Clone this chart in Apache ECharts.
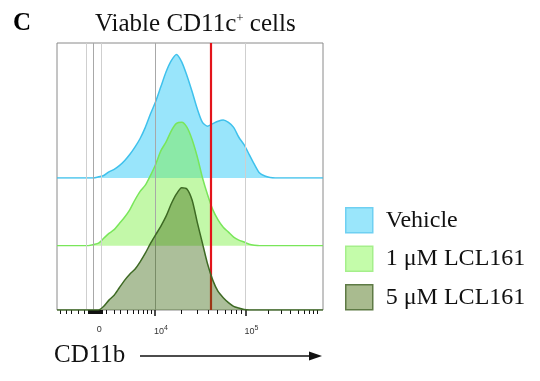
<!DOCTYPE html>
<html>
<head>
<meta charset="utf-8">
<script src="https://cdn.jsdelivr.net/npm/echarts@6/dist/echarts.min.js"></script>
<style>
  html, body { margin: 0; padding: 0; background: #fff; }
  #main { width: 540px; height: 381px; }
</style>
</head>
<body>
<div id="main"></div>
<script>
// histogram bins, display channels (0-1024)
var channels = [0, 120, 140, 160, 180, 200, 220, 240, 260, 280, 300, 320, 340, 360, 380, 400, 420, 440, 460,
	480, 500, 520, 540, 560, 580, 600, 620, 640, 660, 680, 700, 720, 740, 760, 780, 800, 820, 840, 860, 1024];
// % of mode
var vehicle = [0, 0, 0, 1, 2, 5, 7, 10, 14, 19, 25, 32, 41, 52, 62, 74, 86, 95, 100,
	94, 83, 70, 56, 45, 42, 44, 46, 47, 45, 41, 33, 27, 19, 11, 4, 1.6, 0.4, 0, 0, 0];
var lcl1 = [0, 0, 1, 2, 6, 10, 13, 18, 23, 29, 37, 44, 49, 57, 66, 77, 84, 93, 99,
	100, 96, 86, 72, 55, 41, 29, 21, 15, 11, 7, 4.5, 3, 1.2, 0.4, 0, 0, 0, 0, 0, 0];
var lcl5 = [0, 0, 0, 0, 3, 8, 12, 18, 24, 29, 33, 39, 46, 54, 61, 68, 76, 86, 94,
	99, 98, 89, 71, 54, 37, 24, 15, 10, 6, 3, 1.6, 0.4, 0, 0, 0, 0, 0, 0, 0, 0];
var seriesNames = ['Vehicle', '1 μM LCL161', '5 μM LCL161'];

// axis (raw CD11b fluorescence)
var minorTicks = [-6000, -5000, -4000, -3000, -2000,
	-1500, -1400, -1300, -1200, -1100, -1000, -900, -800, -700, -600, -500, -400, -300, -200, -100, 0, 100, 200, 300, 400,
	1000, 2000, 3000, 4000, 5000, 6000, 7000, 8000, 9000,
	20000, 30000, 40000, 50000, 60000, 70000, 80000, 90000,
	200000, 300000, 400000, 500000, 600000, 700000, 800000, 900000];
var majorTicks = [10000, 100000];
var labelValues = [0, 10000, 100000];
var labelTexts = ['0', '{pad|}10{sup|4}', '{pad|}10{sup|5}'];
var gridValues = [-1800, -800, 200, 10000, 100000];
var gateValue = 42000;

// biexponential-ish display transform -> channel
function toChannel(v) {
	if (v > 100000) {
		return toChannel(100000) + 288.7 * Math.log10(v / 100000);
	}
	return 162.8 + 155.7 * Math.asinh(v / 5400);
}

function pairs(ys) {
	var out = [];
	for (var i = 0; i < channels.length; i++) out.push([channels[i], ys[i]]);
	return out;
}

var labelCh = labelValues.map(toChannel);

var chart = echarts.init(document.getElementById('main'));

var serif = 'Liberation Serif';
var H = 123.5 * 1.1;   // each histogram band, y max 110
var hx = { type: 'value', min: 0, max: 1024, show: false };
var hy = { type: 'value', min: 0, max: 110, show: false };

option = {
	animation: false,
	title: [
		{ text: 'C', left: 13, top: 11, padding: 0, textStyle: { fontFamily: serif, fontWeight: 'bold', fontSize: 25, color: '#000' } },
		{
			text: 'Viable CD11c{sup|+} cells', left: 95, top: 12, padding: 0,
			textStyle: {
				fontFamily: serif, fontWeight: 'normal', fontSize: 25, color: '#111',
				rich: { sup: { fontFamily: serif, fontSize: 13, verticalAlign: 'top', padding: [0, 0, 10, 0], color: '#111' } }
			}
		}
	],
	legend: {
		orient: 'vertical', left: 345, top: 207, padding: 0,
		itemWidth: 27, itemHeight: 25, itemGap: 12,
		selectedMode: false,
		textStyle: { fontFamily: serif, fontSize: 24, color: '#111', padding: [0, 0, 0, 8] },
		data: [
			{ name: seriesNames[0], icon: 'rect', itemStyle: { color: '#9ae6fb', borderColor: '#6fd0f2', borderWidth: 1.5 } },
			{ name: seriesNames[1], icon: 'rect', itemStyle: { color: '#c4fcaa', borderColor: '#a5ef8b', borderWidth: 1.5 } },
			{ name: seriesNames[2], icon: 'rect', itemStyle: { color: '#a9bb8f', borderColor: '#5e7a45', borderWidth: 1.5 } }
		]
	},
	grid: [
		{ left: 57, right: 217, top: 43, bottom: 71, show: true, borderColor: '#8a8a8a', borderWidth: 1 },
		{ left: 57, right: 217, bottom: 203, height: H },
		{ left: 57, right: 217, bottom: 135.3, height: H },
		{ left: 57, right: 217, bottom: 71, height: H }
	],
	xAxis: [
		{
			type: 'value', gridIndex: 0, min: 0, max: 1024,
			axisLine: { show: false }, splitLine: { show: false },
			axisTick: { show: true, length: 6, customValues: majorTicks.map(toChannel), lineStyle: { color: '#111', width: 1.5 } },
			axisLabel: {
				show: true, margin: 15, customValues: labelCh,
				fontFamily: 'Liberation Sans', fontSize: 9, color: '#333',
				formatter: function (val) {
					for (var i = 0; i < labelCh.length; i++) {
						if (Math.abs(labelCh[i] - val) < 0.5) return labelTexts[i];
					}
					return '';
				},
				rich: {
					pad: { width: 12 },
					sup: { fontSize: 7, verticalAlign: 'top', padding: [0, 0, 6, 0], color: '#333' }
				}
			}
		},
		Object.assign({ gridIndex: 1 }, hx),
		Object.assign({ gridIndex: 2 }, hx),
		{
			type: 'value', gridIndex: 3, min: 0, max: 1024,
			axisLine: { show: false }, splitLine: { show: false }, axisLabel: { show: false },
			axisTick: { show: true, length: 4, customValues: minorTicks.map(toChannel), lineStyle: { color: '#111', width: 1 } }
		}
	],
	yAxis: [
		{ type: 'value', gridIndex: 0, min: 0, max: 1, show: false },
		Object.assign({ gridIndex: 1 }, hy),
		Object.assign({ gridIndex: 2 }, hy),
		Object.assign({ gridIndex: 3 }, hy)
	],
	series: [
		{
			type: 'line', xAxisIndex: 0, yAxisIndex: 0, data: [], z: 1, silent: true,
			markLine: {
				symbol: 'none', silent: true, label: { show: false },
				data: gridValues.map(function (v, i) {
					return { xAxis: toChannel(v), lineStyle: { color: i == 1 || i == 3 ? '#a8a8a8' : '#cfcfcf', width: 1, type: 'solid' } };
				})
			}
		},
		{
			name: seriesNames[0], type: 'line', xAxisIndex: 1, yAxisIndex: 1, z: 3,
			data: pairs(vehicle), smooth: 0.25, showSymbol: false,
			lineStyle: { color: '#3fc1ec', width: 1.5 },
			itemStyle: { color: '#3fc1ec' },
			areaStyle: { color: 'rgba(60,205,248,0.52)', opacity: 1 }
		},
		{
			name: seriesNames[1], type: 'line', xAxisIndex: 2, yAxisIndex: 2, z: 4,
			data: pairs(lcl1), smooth: 0.25, showSymbol: false,
			lineStyle: { color: '#79e65a', width: 1.5 },
			itemStyle: { color: '#79e65a' },
			areaStyle: { color: 'rgba(123,239,64,0.45)', opacity: 1 }
		},
		{
			name: seriesNames[2], type: 'line', xAxisIndex: 3, yAxisIndex: 3, z: 5,
			data: pairs(lcl5), smooth: 0.25, showSymbol: false,
			lineStyle: { color: '#3e6a24', width: 1.5 },
			itemStyle: { color: '#3e6a24' },
			areaStyle: { color: 'rgba(58,102,14,0.42)', opacity: 1 }
		},
		{
			type: 'line', xAxisIndex: 0, yAxisIndex: 0, data: [], z: 10, silent: true,
			markLine: {
				symbol: 'none', silent: true, label: { show: false },
				data: [{ xAxis: toChannel(gateValue) }],
				lineStyle: { color: '#e3141b', width: 2.2, type: 'solid' }
			}
		}
	],
	graphic: [
		{ type: 'text', left: 54, top: 343, style: { text: 'CD11b', font: '25px "Liberation Serif"', fill: '#111' } },
		{ type: 'line', shape: { x1: 140, y1: 356, x2: 314, y2: 356 }, style: { stroke: '#111', lineWidth: 1.5 } },
		{ type: 'polygon', shape: { points: [[309, 351.5], [322, 356], [309, 360.5]] }, style: { fill: '#111' } }
	]
};
chart.setOption(option);
</script>
</body>
</html>
